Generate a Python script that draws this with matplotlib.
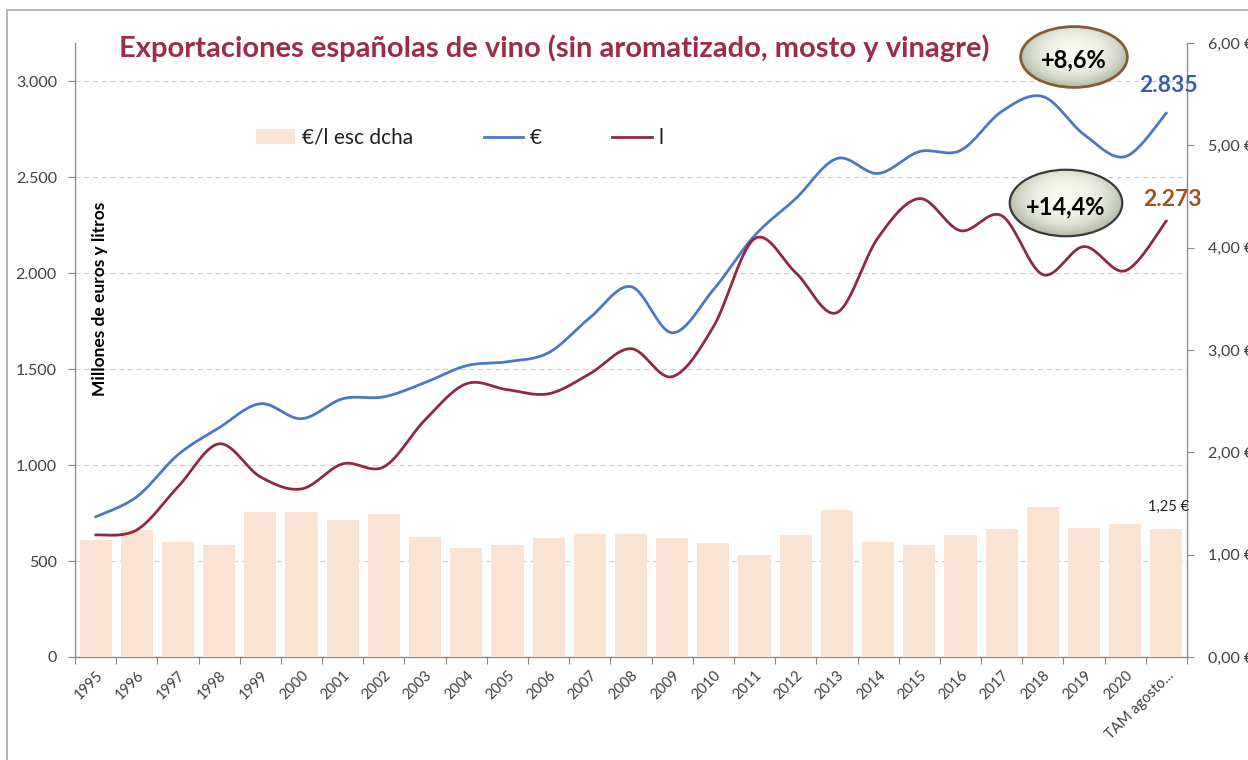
import numpy as np
import matplotlib
matplotlib.use("Agg")
import matplotlib.pyplot as plt
from matplotlib.patches import Ellipse, Rectangle, Patch
from matplotlib.lines import Line2D
from matplotlib.ticker import FuncFormatter, MultipleLocator

plt.rcParams['font.family'] = ['Lato', 'DejaVu Sans']

# ---------------- data ----------------
categories = ["1995", "1996", "1997", "1998", "1999", "2000", "2001", "2002", "2003",
              "2004", "2005", "2006", "2007", "2008", "2009", "2010", "2011", "2012",
              "2013", "2014", "2015", "2016", "2017", "2018", "2019", "2020", "TAM agosto..."]
euros = [730, 835, 1054, 1195, 1320, 1242, 1346, 1356, 1430, 1518, 1539, 1586, 1768,
         1930, 1690, 1914, 2196, 2389, 2598, 2520, 2634, 2640, 2843, 2921, 2723, 2608, 2835]
litros = [636, 662, 887, 1111, 939, 876, 1007, 991, 1236, 1424, 1393, 1372, 1476,
          1607, 1461, 1721, 2180, 2003, 1795, 2186, 2389, 2222, 2300, 1993, 2139, 2013, 2273]
precio = [1.14, 1.24, 1.12, 1.09, 1.42, 1.42, 1.34, 1.40, 1.17, 1.07, 1.09, 1.16, 1.20,
          1.20, 1.16, 1.11, 1.00, 1.19, 1.44, 1.12, 1.09, 1.19, 1.25, 1.47, 1.26, 1.30, 1.25]
title = "Exportaciones españolas de vino (sin aromatizado, mosto y vinagre)"
var_euros = "+8,6%"
var_litros = "+14,4%"

W, H = 1248, 760
fig = plt.figure(figsize=(W / 100, H / 100), dpi=100)

def px_rect(x0, y0, x1, y1):
    return [x0 / W, 1 - y1 / H, (x1 - x0) / W, (y1 - y0) / H]

pos = px_rect(75, 43, 1187, 657)
ax = fig.add_axes(pos, zorder=1)
ax2 = ax.twinx()
ax2.set_zorder(2)
ax2.patch.set_visible(False)
ax3 = fig.add_axes(pos, sharex=ax, sharey=ax, zorder=3)
ax3.axis('off')
ax3.patch.set_visible(False)

n = len(categories)
x = np.arange(n)

# bars (right scale)
ax2.bar(x, precio, width=0.78, color='#FBE3D4', zorder=2)

# smoothed lines (Excel-like Catmull-Rom)
def smooth(xv, yv, steps=30):
    xv = np.asarray(xv, float); yv = np.asarray(yv, float)
    P = np.column_stack([xv, yv])
    P = np.vstack([P[0], P, P[-1]])
    out = []
    t = np.linspace(0, 1, steps)[:, None]
    for i in range(1, len(P) - 2):
        p0, p1, p2, p3 = P[i - 1], P[i], P[i + 1], P[i + 2]
        c1 = p1 + (p2 - p0) / 6
        c2 = p2 - (p3 - p1) / 6
        seg = ((1 - t) ** 3) * p1 + 3 * ((1 - t) ** 2) * t * c1 + 3 * (1 - t) * t ** 2 * c2 + t ** 3 * p2
        out.append(seg if i == 1 else seg[1:])
    out = np.vstack(out)
    return out[:, 0], out[:, 1]

sx, sy = smooth(x, euros)
ax3.plot(sx, sy, color='#4A78C6', lw=2.0, solid_capstyle='round')
sx, sy = smooth(x, litros)
ax3.plot(sx, sy, color='#8E2A40', lw=2.0, solid_capstyle='round')

# axes limits
ax.set_xlim(-0.5, n - 0.5)
ax.set_ylim(0, 3200)
ax2.set_ylim(0, 6)

# left axis
ax.yaxis.set_major_locator(MultipleLocator(500))
ax.yaxis.set_major_formatter(FuncFormatter(lambda v, p: f"{int(v):,}".replace(",", ".")))
ax.grid(axis='y', color='#CFCFCF', linestyle=(0, (4, 3)), lw=0.9)
ax.set_axisbelow(True)
ax.tick_params(axis='y', length=5, color='#888888', labelsize=11.5, labelcolor='#404040', pad=8)

# right axis
ax2.yaxis.set_major_locator(MultipleLocator(1))
ax2.yaxis.set_major_formatter(FuncFormatter(lambda v, p: f"{v:.2f} €".replace(".", ",")))
ax2.tick_params(axis='y', length=5, color='#888888', labelsize=11.5, labelcolor='#404040', pad=10)

# x axis: ticks at boundaries, labels at centers
ax.set_xticks(np.arange(-0.5, n, 1.0))
ax.set_xticklabels([])
ax.set_xticks(x, minor=True)
ax.set_xticklabels(categories, minor=True, rotation=45, ha='right', rotation_mode='anchor',
                   fontsize=10.5, color='#404040')
ax.tick_params(axis='x', which='major', length=5, color='#888888')
ax.tick_params(axis='x', which='minor', length=0, pad=8)

for a in (ax, ax2):
    a.spines['top'].set_visible(False)
    for s in ('left', 'right', 'bottom'):
        a.spines[s].set_color('#8C8C8C')
        a.spines[s].set_linewidth(1.0)
ax2.spines['left'].set_visible(False)
ax2.spines['bottom'].set_visible(False)
ax.spines['right'].set_visible(False)

# y label inside the plot
fig.text(100 / W, 1 - 299 / H, "Millones de euros y litros", rotation=90,
         ha='center', va='center', fontsize=12.5, fontweight='bold', color='black')

# title
fig.text(554 / W, 1 - 48 / H, title, ha='center', va='center', fontsize=21,
         fontweight='bold', color='#9C2D48')

# legend
handles = [Patch(facecolor='#FBE3D4', edgecolor='none'),
           Line2D([], [], color='#4A78C6', lw=2.0),
           Line2D([], [], color='#8E2A40', lw=2.0)]
fig.legend(handles, ["€/l esc dcha", "€", "l"], ncol=3, frameon=False,
           loc='center left', bbox_to_anchor=(237 / W, 1 - 138 / H), fontsize=15,
           handlelength=1.9, handletextpad=0.3, columnspacing=3.4, labelcolor='#202020')

# end labels
ax3.text(n - 1 + 0.05, euros[-1] + 145, "2.835", ha='center', va='center', fontsize=16.5,
         fontweight='bold', color='#3A5DA8')
ax3.text(n - 1 + 0.15, litros[-1] + 110, "2.273", ha='center', va='center', fontsize=16.5,
         fontweight='bold', color='#A0521E')
ax2.text(n - 1 + 0.05, precio[-1] + 0.22, "1,25 €", ha='center', va='center', fontsize=10.5,
         color='#202020')

# ellipse badges with gradient
def badge(cx, cy, w, h, label, edge, lw):
    bax = fig.add_axes(px_rect(cx - w / 2, cy - h / 2, cx + w / 2, cy + h / 2), zorder=5)
    bax.axis('off')
    yy, xx = np.mgrid[0:1:200j, 0:1:200j]
    r = np.sqrt(((xx - 0.5) / 0.55) ** 2 + ((yy - 0.42) / 0.6) ** 2)
    r = np.clip(r, 0, 1)
    c_in = np.array([0.97, 0.98, 0.94])
    c_out = np.array([0.64, 0.67, 0.58])
    img = c_in[None, None, :] * (1 - r[..., None] ** 2.5) + c_out[None, None, :] * (r[..., None] ** 2.5)
    im = bax.imshow(img, extent=[0, 1, 0, 1], origin='upper', aspect='auto')
    clip = Ellipse((0.5, 0.5), 0.98, 0.96, transform=bax.transAxes, facecolor='none', edgecolor='none')
    bax.add_patch(clip)
    im.set_clip_path(clip)
    bax.add_patch(Ellipse((0.5, 0.5), 0.97, 0.95, transform=bax.transAxes,
                          facecolor='none', edgecolor=edge, lw=lw))
    bax.set_xlim(0, 1); bax.set_ylim(0, 1)
    bax.text(0.5, 0.45, label, ha='center', va='center', fontsize=17, fontweight='bold',
             color='black', transform=bax.transAxes)

badge(1074, 57, 110, 64, var_euros, '#8A5A30', 2.0)
badge(1066, 203, 116, 70, var_litros, '#3A3A3A', 1.6)

# outer frame
fig.patches.append(Rectangle((7 / W, -0.02), 1.05, 1 - 10 / H + 0.02, transform=fig.transFigure,
                             facecolor='none', edgecolor='#A8A8A8', lw=1.2, figure=fig))

fig.savefig("out.png", dpi=100)
